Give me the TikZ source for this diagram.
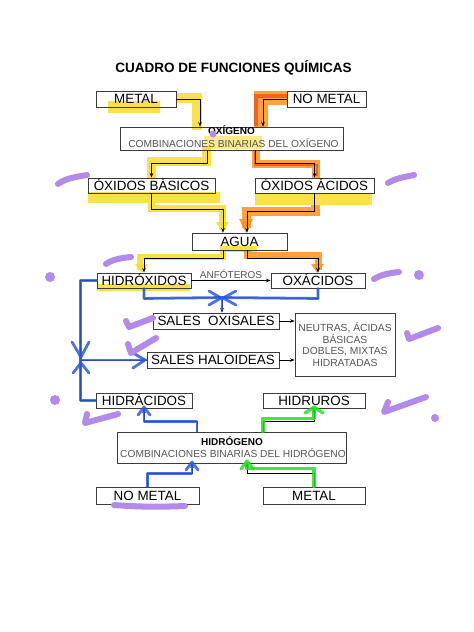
\documentclass[tikz,border=0pt]{standalone}
\usepackage{fontspec}
\setmainfont{Liberation Sans}
\usetikzlibrary{arrows.meta}
\definecolor{boxgray}{RGB}{60,60,60}
\definecolor{txtgray}{RGB}{85,85,85}
\definecolor{hlyel}{RGB}{250,220,40}
\definecolor{hlora}{RGB}{255,145,30}
\definecolor{hlred}{RGB}{235,85,20}
\definecolor{penblue}{RGB}{45,90,225}
\definecolor{pengreen}{RGB}{35,225,35}
\definecolor{penpurple}{RGB}{178,138,235}
\begin{document}
\begin{tikzpicture}[x=1pt,y=-1pt,
  box/.style={draw=boxgray,line width=0.9pt,inner sep=0pt,text height=9.6pt,text depth=0pt,font=\fontsize{13.4}{15}\selectfont},
  plainbox/.style={draw=boxgray,line width=0.9pt,inner sep=0pt},
  conn/.style={draw=black,line width=0.7pt,-{Stealth[length=4.5pt,width=3.6pt]}},
  smalltxt/.style={font=\fontsize{10.2}{12}\selectfont,text=txtgray,inner sep=0pt,anchor=base},
  smallbold/.style={font=\bfseries\fontsize{10}{12}\selectfont,inner sep=0pt,anchor=base},
  ystroke/.style={draw=hlyel,opacity=0.85,line join=miter},
  ostroke/.style={draw=hlora,opacity=0.85,line join=miter},
  rstroke/.style={draw=hlred,opacity=0.8,line join=miter},
  bpen/.style={draw=penblue,line width=2.8pt,line cap=round,line join=round,opacity=0.85},
  gpen/.style={draw=pengreen,line width=3.2pt,line cap=round,line join=round,opacity=0.85},
  ppen/.style={draw=penpurple,line width=6pt,line cap=round,line join=round},
]
\useasboundingbox (0,0) rectangle (474,632);
\fill[white] (0,0) rectangle (474,632);

% ---------- highlighter (yellow / orange) ----------
\fill[hlyel,opacity=0.85] (108,101) rectangle (160,113);
\draw[ystroke,line width=10pt] (176,97.5) -- (197,97.5) -- (197,130);
\fill[hlyel,opacity=0.55] (204,136) rectangle (262,149);
\draw[ystroke,line width=9pt] (206,146) -- (206,161.5) -- (151,161.5) -- (151,178);
\fill[hlyel,opacity=0.85] (88,192) rectangle (220,203);
\fill[hlyel,opacity=0.85] (255,193) rectangle (372,205);
\draw[ystroke,line width=7pt] (151,203) -- (151,208) -- (222.5,208) -- (222.5,230);
\fill[hlyel,opacity=0.85] (216,222) -- (229,222) -- (222.5,233) -- cycle;
\fill[hlyel,opacity=0.85] (220,246) rectangle (257,252);
\draw[ystroke,line width=6pt] (223,250) -- (223,257) -- (140,257) -- (140,270);
\fill[hlyel,opacity=0.85] (135,264) -- (148,264) -- (142,273) -- cycle;
\fill[hlyel,opacity=0.85] (97,284) rectangle (190,291);

\draw[ostroke,line width=14pt] (288,97.5) -- (261,97.5) -- (261,127);
\draw[rstroke,line width=4pt] (287,96) -- (256,96) -- (256,126);
\draw[ostroke,line width=8pt] (256,150) -- (256,164) -- (316,164) -- (316,178);
\draw[rstroke,line width=2pt] (255,151) -- (255,165) -- (317,165) -- (317,176);
\draw[ostroke,line width=9pt] (315,205) -- (315,211) -- (246,211) -- (246,228);
\fill[hlora,opacity=0.85] (239,219) -- (253,219) -- (246,233) -- cycle;
\draw[ostroke,line width=7pt] (247,250) -- (247,255) -- (318,255) -- (318,270);
\fill[hlora,opacity=0.85] (311,264) -- (324,264) -- (317,273) -- cycle;

% ---------- boxes ----------
\node[font=\bfseries\fontsize{13.5}{16}\selectfont,inner sep=0pt] (title) at (233.5,67.5) {CUADRO DE FUNCIONES QUÍMICAS};

\node[box,minimum width=80pt,minimum height=16pt] (metalA) at (136,99) {METAL};
\node[box,minimum width=79pt,minimum height=16pt] (nometalA) at (326.5,99) {NO METAL};
\node[plainbox,minimum width=223pt,minimum height=23pt] (oxi) at (231.5,138.5) {};
\node[smallbold] (oxiT) at (231.5,134.5) {OXÍGENO};
\node[smalltxt] (oxiS) at (233.5,147) {COMBINACIONES BINARIAS DEL OXÍGENO};
\node[box,minimum width=127pt,minimum height=15pt] (obas) at (151.5,185.5) {ÓXIDOS BÁSICOS};
\node[box,minimum width=119pt,minimum height=15pt] (oacid) at (314.5,185.5) {ÓXIDOS ÁCIDOS};
\node[box,minimum width=95pt,minimum height=17pt] (agua) at (239.5,241.5) {AGUA};
\node[box,minimum width=94pt,minimum height=15pt] (hidrox) at (144,280.5) {HIDRÓXIDOS};
\node[box,minimum width=94pt,minimum height=15pt] (oxac) at (318,280.5) {OXÁCIDOS};
\node[box,minimum width=126pt,minimum height=16pt] (oxis) at (216,321) {SALES\ \ OXISALES};
\node[box,minimum width=132pt,minimum height=16pt] (halo) at (213,360) {SALES HALOIDEAS};
\node[plainbox,minimum width=100pt,minimum height=63pt,align=center,text=txtgray,font=\fontsize{10.3}{11.7}\selectfont] (neut) at (345,344.5) {NEUTRAS, ÁCIDAS\\BÁSICAS\\DOBLES, MIXTAS\\HIDRATADAS};
\node[box,minimum width=96pt,minimum height=15pt] (hidrac) at (144,400.5) {HIDRÁCIDOS};
\node[box,minimum width=102pt,minimum height=15pt] (hidrur) at (314,400.5) {HIDRUROS};
\node[plainbox,minimum width=229pt,minimum height=31pt] (hidrog) at (231.5,447.5) {};
\node[smallbold] (hidrogT) at (232,445) {HIDRÓGENO};
\node[smalltxt] (hidrogS) at (233,457.5) {COMBINACIONES BINARIAS DEL HIDRÓGENO};
\node[box,minimum width=103pt,minimum height=17pt] (nometalB) at (147.5,495.5) {NO METAL};
\node[box,minimum width=102pt,minimum height=17pt] (metalB) at (314,495.5) {METAL};

\coordinate (j1) at ([xshift=6pt,yshift=15pt]oxis.north);
\coordinate (j2) at ([xshift=-66pt]halo.west);

% ---------- black connectors ----------
\draw[conn] (metalA.east) -| ([xshift=-31.5pt]oxi.north);
\draw[conn] (nometalA.west) -| ([xshift=31.5pt]oxi.north);
\draw[conn] ([xshift=-24.5pt]oxi.south) -- ++(0,13) -| (obas.north);
\draw[conn] ([xshift=23.5pt]oxi.south) -- ++(0,13) -| (oacid.north);
\draw[conn] (obas.south) -- ++(0,16) -| ([xshift=-16.5pt]agua.north);
\draw[conn] (oacid.south) -- ++(0,18) -| ([xshift=7.5pt]agua.north);
\draw[conn] ([xshift=-16.5pt]agua.south) -- ++(0,8) -| (hidrox.north);
\draw[conn] ([xshift=7.5pt]agua.south) -- ++(0,8) -| (oxac.north);
\draw[conn] (hidrox.east) -- node[midway,above=1.5pt,inner sep=0pt,font=\fontsize{10}{12}\selectfont,text=txtgray] (anf) {ANFÓTEROS} (oxac.west);
\draw[conn] (hidrox.south) -- ++(0,10) -- (j1);
\draw[conn] (oxac.south) -- ++(0,10) -- (j1);
\draw[conn] (j1) -- ([xshift=6pt]oxis.north);
\draw[conn] (oxis.east) -- (oxis.east -| neut.west);
\draw[conn] (halo.east) -- (halo.east -| neut.west);
\draw[conn] (hidrox.west) -- ++(-16,0) -- (j2);
\draw[conn] (hidrac.west) -- ++(-15,0) -- (j2);
\draw[conn] (j2) -- (halo.west);
\draw[conn] ([xshift=-34.5pt]hidrog.north) -- ++(0,-10) -| (hidrac.south);
\draw[conn] ([xshift=31.5pt]hidrog.north) -- ++(0,-10) -| (hidrur.south);
\draw[conn] (nometalB.north) -- ++(0,-13) -| ([xshift=-39.5pt]hidrog.south);
\draw[conn] (metalB.north) -- ++(0,-13) -| ([xshift=15.5pt]hidrog.south);

% ---------- blue and green pen (over the lines) ----------
\draw[bpen] (hidrox.south) -- ++(0,10) -- (j1);
\draw[bpen] (oxac.south) -- ++(0,10) -- (j1);
\draw[bpen] (209,291) -- (221,298) -- (209,305);
\draw[bpen] (236,291) -- (223,298) -- (236,305);
\draw[bpen] (j1) -- ([xshift=6pt,yshift=3pt]oxis.north);
\draw[bpen] (hidrox.west) -- ++(-16,0) -- (j2);
\draw[bpen] (hidrac.west) -- ++(-15,0) -- (j2);
\draw[bpen] (j2) -- (halo.west);
\draw[bpen] (72,342) -- (81,357) -- (89,342);
\draw[bpen] (73,373) -- (81,363) -- (89,373);
\draw[bpen] (133,353) -- (145,360) -- (133,368);
\draw[bpen] ([xshift=-34.5pt]hidrog.north) -- ++(0,-10) -| (hidrac.south);
\draw[bpen] (138,415) -- (144,407) -- (150,415);
\draw[bpen] (nometalB.north) -- ++(0,-13) -| ([xshift=-39.5pt]hidrog.south);
\draw[bpen] (186,470) -- (192,462) -- (198,470);
\draw[gpen] (metalB.north) -- ++(0,-18) -| ([xshift=15.5pt]hidrog.south);
\draw[gpen] (241,469) -- (247,461) -- (253,469);
\draw[gpen] ([xshift=31.5pt]hidrog.north) -- ++(0,-13) -| (hidrur.south);
\draw[gpen] (305,413) -- (314,407) -- (323,413);

% ---------- purple marks ----------
\fill[penpurple] (213,134) circle (3.5);
\draw[ppen] (58,184) .. controls (66,178) and (76,177) .. (87,175);
\draw[ppen] (388,183) .. controls (396,178) and (405,177) .. (414,175);
\draw[ppen] (106,264) .. controls (113,259) and (122,258) .. (131,257);
\fill[penpurple] (50,277) circle (5);
\draw[ppen] (374,279) .. controls (382,274) and (391,273) .. (399,272);
\fill[penpurple] (419,275) circle (5);
\draw[ppen] (126,321) -- (129,327) -- (153,318);
\draw[ppen] (128,344) -- (131,353) -- (156,338);
\draw[ppen] (407,333) -- (409,339) -- (438,328);
\draw[ppen] (388,402) -- (384,412) -- (426,397);
\fill[penpurple] (435,418) circle (4);
\fill[penpurple] (55,400) circle (5);
\draw[ppen] (87,414) -- (85,423) -- (118,414);
\draw[ppen] (114,505) .. controls (140,507) and (160,507) .. (185,506);
\end{tikzpicture}
\end{document}
